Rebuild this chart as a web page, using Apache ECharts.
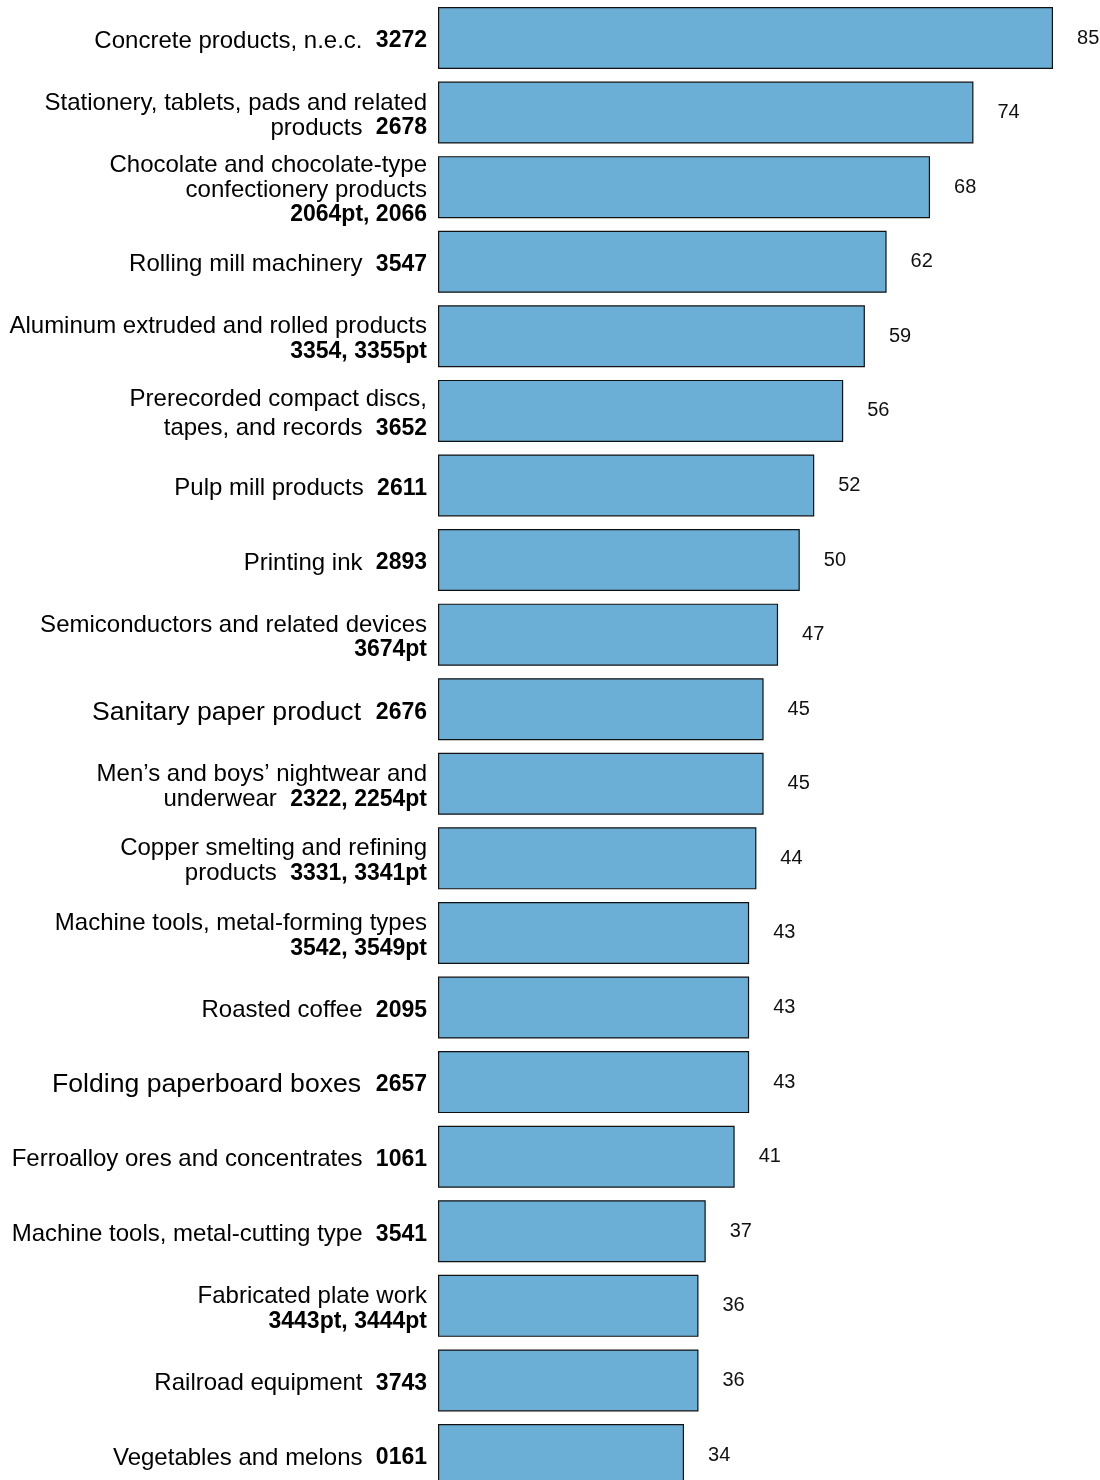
<!DOCTYPE html>
<html>
<head>
<meta charset="utf-8">
<script src="https://cdn.jsdelivr.net/npm/echarts@6/dist/echarts.min.js"></script>
<style>
html,body{margin:0;padding:0;background:#fff;overflow:hidden;}
#chart{width:1100px;height:1500px;}
</style>
</head>
<body>
<div id="chart"></div>
<script>
const names = [
  "Concrete products, n.e.c.",
  "Stationery, tablets, pads and related\nproducts",
  "Chocolate and chocolate-type\nconfectionery products\n",
  "Rolling mill machinery",
  "Aluminum extruded and rolled products\n",
  "Prerecorded compact discs,\ntapes, and records",
  "Pulp mill products",
  "Printing ink",
  "Semiconductors and related devices\n",
  "Sanitary paper product",
  "Men\u2019s and boys\u2019 nightwear and\nunderwear",
  "Copper smelting and refining\nproducts",
  "Machine tools, metal-forming types\n",
  "Roasted coffee",
  "Folding paperboard boxes",
  "Ferroalloy ores and concentrates",
  "Machine tools, metal-cutting type",
  "Fabricated plate work\n",
  "Railroad equipment",
  "Vegetables and melons"
];
const codes = ["3272","2678","2064pt, 2066","3547","3354, 3355pt","3652","2611","2893","3674pt","2676",
  "2322, 2254pt","3331, 3341pt","3542, 3549pt","2095","2657","1061","3541","3443pt, 3444pt","3743","0161"];
const values = [85,74,68,62,59,56,52,50,47,45,45,44,43,43,43,41,37,36,36,34];

const FONT = "'Liberation Sans', Arial, Helvetica, sans-serif";
const largeIdx = [9, 14];
const wideIdx = [5];

function labelFor(idx) {
  const big = largeIdx.indexOf(idx) >= 0;
  const wide = wideIdx.indexOf(idx) >= 0;
  const n = big ? 'L' : (wide ? 'w' : 'n');
  const b = big ? 'LB' : (wide ? 'wb' : 'b');
  const lines = names[idx].split('\n');
  const out = [];
  for (let i = 0; i < lines.length - 1; i++) out.push('{' + n + '|' + lines[i] + '}');
  const last = lines[lines.length - 1];
  if (last === '') out.push('{' + b + '|' + codes[idx] + '}');
  else out.push('{' + n + '|' + last + '  }{' + b + '|' + codes[idx] + '}');
  return out.join('\n');
}

const chart = echarts.init(document.getElementById('chart'), null, {renderer: 'canvas'});
chart.setOption({
  animation: false,
  backgroundColor: '#ffffff',
  grid: {left: 438, right: 10.8, top: 0.7, height: 1491.6, containLabel: false},
  xAxis: {
    type: 'value', min: 0, max: 90, show: false
  },
  yAxis: {
    type: 'category',
    inverse: true,
    data: names,
    axisLine: {show: false},
    axisTick: {show: false},
    splitLine: {show: false},
    axisLabel: {
      margin: 11,
      align: 'right',
      color: '#000',
      fontFamily: FONT,
      padding: [6, 0, 0, 0],
      formatter: function (v, idx) { return labelFor(idx); },
      rich: {
        n: {fontSize: 24, lineHeight: 25, fontFamily: FONT, color: '#000', align: 'right'},
        b: {fontSize: 23, lineHeight: 25, fontWeight: 'bold', fontFamily: FONT, color: '#000', align: 'right'},
        w: {fontSize: 24, lineHeight: 29, fontFamily: FONT, color: '#000', align: 'right'},
        wb: {fontSize: 23, lineHeight: 29, fontWeight: 'bold', fontFamily: FONT, color: '#000', align: 'right'},
        L: {fontSize: 26.6, lineHeight: 30, fontFamily: FONT, color: '#000', align: 'right'},
        LB: {fontSize: 23, lineHeight: 30, fontWeight: 'bold', fontFamily: FONT, color: '#000', align: 'right'}
      }
    }
  },
  series: [{
    type: 'bar',
    data: values,
    barWidth: 62,
    itemStyle: {color: '#6baed6', borderColor: '#111', borderWidth: 1.2},
    label: {
      show: true,
      position: 'right',
      distance: 24,
      fontSize: 20,
      fontFamily: FONT,
      color: '#111'
    }
  }]
});
</script>
</body>
</html>
